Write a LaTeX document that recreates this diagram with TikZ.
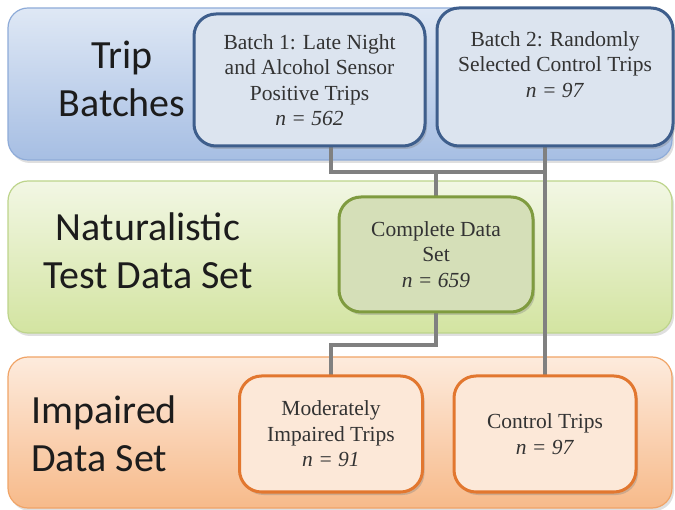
\documentclass[tikz,border=0pt]{standalone}
\usepackage{fontspec}
\setmainfont{Liberation Serif}
\newfontfamily\timesf{Liberation Serif}
\newfontfamily\calib{Carlito}
\usetikzlibrary{shadows}
\definecolor{bandBtop}{HTML}{DFE8F5}
\definecolor{bandBbot}{HTML}{A6BEE3}
\definecolor{bandBdraw}{HTML}{8EABD8}
\definecolor{boxBfill}{HTML}{DCE4EF}
\definecolor{boxBdraw}{HTML}{3E5E8C}
\definecolor{bandGtop}{HTML}{F2F7E4}
\definecolor{bandGbot}{HTML}{D3E4A1}
\definecolor{bandGdraw}{HTML}{BDD48B}
\definecolor{boxGfill}{HTML}{D5DFB8}
\definecolor{boxGdraw}{HTML}{7F9B3F}
\definecolor{bandOtop}{HTML}{FDEBDD}
\definecolor{bandObot}{HTML}{F7BA8A}
\definecolor{bandOdraw}{HTML}{F0A467}
\definecolor{boxOfill}{HTML}{FCE8D8}
\definecolor{boxOdraw}{HTML}{E2772F}
\definecolor{connc}{HTML}{808080}
\definecolor{labc}{HTML}{1C1C1C}
\begin{document}
\begin{tikzpicture}[x=1pt,y=-1pt,
  band/.style={rounded corners=20pt, line width=1.2pt,
    drop shadow={opacity=0.25, shadow xshift=2pt, shadow yshift=-3pt}},
  boxbase/.style={rectangle, rounded corners=22pt, line width=3pt, align=center,
    font=\timesf\fontsize{21.5}{25.5}\selectfont, text=black!80, inner sep=0pt,
    drop shadow={opacity=0.35, shadow xshift=2pt, shadow yshift=-3pt}},
  bluebox/.style={boxbase, draw=boxBdraw, fill=boxBfill},
  greenbox/.style={boxbase, draw=boxGdraw, fill=boxGfill},
  orangebox/.style={boxbase, draw=boxOdraw, fill=boxOfill},
  bandlabel/.style={font=\calib\fontsize{40}{48}\selectfont, text=labc, inner sep=0pt},
  conn/.style={draw=connc, line width=4.5pt}
]
\useasboundingbox (0,0) rectangle (675,510);

% bands
\draw[band, draw=bandBdraw, top color=bandBtop, bottom color=bandBbot] (8,8) rectangle (672,160);
\draw[band, draw=bandGdraw, top color=bandGtop, bottom color=bandGbot] (8,181) rectangle (672,333);
\draw[band, draw=bandOdraw, top color=bandOtop, bottom color=bandObot] (8,357) rectangle (672,508);

% band labels
\node[bandlabel, align=center] (lab1) at (122,79) {Trip\\Batches};
\node[bandlabel, align=center] (lab2) at (148,251) {Naturalistic\\Test Data Set};
\node[bandlabel, align=left, anchor=west] (lab3) at (31,434) {Impaired\\Data Set};

% junctions
\coordinate (j1) at (436,172);
\coordinate (j2) at (436,345);

% box centres
\path (309.5,80) coordinate (b1c);
\path (555,77) coordinate (b2c);
\path (436,254.5) coordinate (cc);
\path (331,434) coordinate (mc);
\path (545,434) coordinate (ctc);

% connectors (drawn beneath the boxes)
\draw[conn] (b1c -| mc) |- (j1 -| ctc);
\draw[conn] (j1) -- (cc);
\draw[conn] (ctc |- b2c) -- (ctc);
\draw[conn] (cc) -- (j2) -| (mc);

% boxes
\node[bluebox, minimum width=231pt, minimum height=132pt] (b1) at (b1c)
  {Batch 1: Late Night\\and Alcohol Sensor\\Positive Trips\\\textit{n = 562}};
\node[bluebox, minimum width=236pt, minimum height=138pt] (b2) at (b2c)
  {Batch 2: Randomly\\Selected Control Trips\\\textit{n = 97}\\\mbox{}};
\node[greenbox, minimum width=194pt, minimum height=115pt] (c) at (cc)
  {Complete Data\\Set\\\textit{n = 659}};
\node[orangebox, minimum width=183pt, minimum height=116pt] (m) at (mc)
  {Moderately\\Impaired Trips\\\textit{n = 91}};
\node[orangebox, minimum width=182pt, minimum height=116pt] (ct) at (ctc)
  {Control Trips\\\textit{n = 97}};
\end{tikzpicture}
\end{document}
